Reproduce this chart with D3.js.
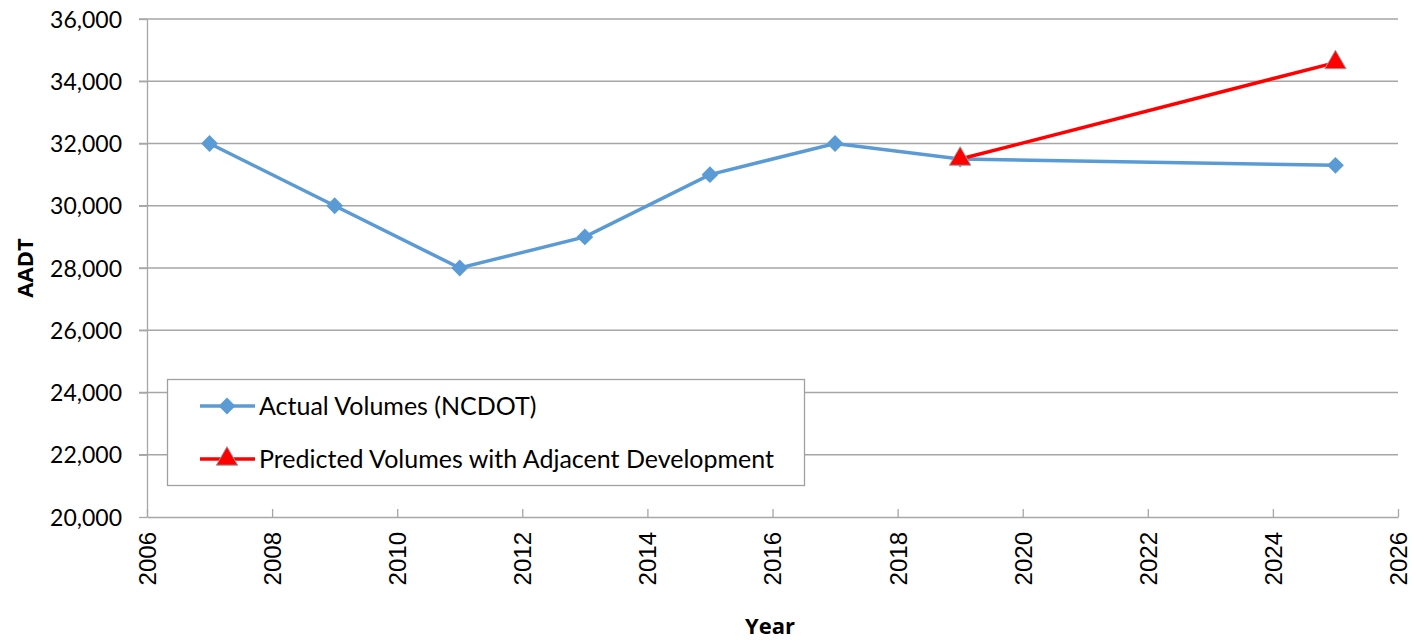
<!DOCTYPE html>
<meta charset="utf-8">
<style>
    body { margin: 0; background: #fff; }
    .grid line { stroke: #a6a6a6; stroke-width: 1.3; }
    .axis path, .axis line { stroke: #a6a6a6; stroke-width: 1.3; }
    .ylab text { font-family: Lato, "Open Sans", sans-serif; font-size: 23px; fill: #000; }
    .xlab text { font-family: "Liberation Sans", Arial, sans-serif; font-size: 24px; fill: #000; }
    .title { font-family: "Open Sans", Lato, sans-serif; font-weight: bold; font-size: 22px; }
    .legend text { font-family: Lato, "Open Sans", sans-serif; font-size: 25px; }
</style>
<body>
<div id="chart"></div>
<script src="https://d3js.org/d3.v7.min.js"></script>
<script>

    // data
    var actualYears = [2007, 2009, 2011, 2013, 2015, 2017, 2019, 2025],
        actualVals  = [32000, 30000, 28000, 29000, 31000, 32000, 31500, 31300];

    var predYears = [2019, 2025],
        predVals  = [31500, 34600];

    var xTicks = [2006, 2008, 2010, 2012, 2014, 2016, 2018, 2020, 2022, 2024, 2026],
        yTicks = [20000, 22000, 24000, 26000, 28000, 30000, 32000, 34000, 36000];

    var legendLabels = ["Actual Volumes (NCDOT)", "Predicted Volumes with Adjacent Development"];

    // dims
    var svg_dx = 1414, svg_dy = 643;
    var plot = { left: 147, right: 1398, top: 19, bottom: 517 };

    var x = d3.scaleLinear().domain([2006, 2026]).range([plot.left, plot.right]),
        y = d3.scaleLinear().domain([20000, 36000]).range([plot.bottom, plot.top]);

    var svg = d3.select("#chart").append("svg")
        .attr("width", svg_dx)
        .attr("height", svg_dy);

    // horizontal gridlines (extend left past axis like tick marks)
    svg.append("g").attr("class", "grid")
        .selectAll("line")
        .data(yTicks.slice(1))
        .enter().append("line")
        .attr("x1", plot.left - 8)
        .attr("x2", plot.right)
        .attr("y1", function (d) { return y(d); })
        .attr("y2", function (d) { return y(d); });

    // y axis
    var yAxis = svg.append("g").attr("class", "axis ylab")
        .attr("transform", "translate(" + plot.left + ",0)")
        .call(d3.axisLeft(y).tickValues(yTicks).tickSize(8).tickSizeOuter(0).tickPadding(17)
            .tickFormat(d3.format(",")));
    yAxis.selectAll("text").attr("dy", "0.35em");

    // x axis (ticks inside)
    var xAxis = svg.append("g").attr("class", "axis xlab")
        .attr("transform", "translate(0," + plot.bottom + ")")
        .call(d3.axisBottom(x).tickValues(xTicks).tickSize(-8).tickSizeOuter(0)
            .tickFormat(d3.format("d")));
    xAxis.selectAll("text")
        .attr("transform", "rotate(-90)")
        .attr("text-anchor", "end")
        .attr("x", -15)
        .attr("y", 0)
        .attr("dy", "0.35em");

    // axis titles
    svg.append("text").attr("class", "title")
        .attr("transform", "translate(33," + ((plot.top + plot.bottom) / 2) + ") rotate(-90)")
        .attr("text-anchor", "middle")
        .text("AADT");

    svg.append("text").attr("class", "title")
        .attr("x", 770).attr("y", 634)
        .attr("text-anchor", "middle")
        .text("Year");

    var line = d3.line()
        .x(function (d) { return x(d[0]); })
        .y(function (d) { return y(d[1]); });

    var actual = d3.zip(actualYears, actualVals),
        pred = d3.zip(predYears, predVals);

    var blue = "#5b9bd5", red = "#ff0000";

    var diamond = d3.symbol().type(d3.symbolDiamond2).size(180);
    var tri = d3.symbol().type(d3.symbolTriangle).size(200);

    svg.append("path")
        .attr("d", line(actual))
        .attr("fill", "none")
        .attr("stroke", blue)
        .attr("stroke-width", 3.5);

    svg.append("g").selectAll("path")
        .data(actual)
        .enter().append("path")
        .attr("transform", function (d) { return "translate(" + x(d[0]) + "," + y(d[1]) + ")"; })
        .attr("d", diamond)
        .attr("fill", blue);

    svg.append("path")
        .attr("d", line(pred))
        .attr("fill", "none")
        .attr("stroke", red)
        .attr("stroke-width", 3.5);

    svg.append("g").selectAll("path")
        .data(pred)
        .enter().append("path")
        .attr("transform", function (d) { return "translate(" + x(d[0]) + "," + y(d[1]) + ")"; })
        .attr("d", tri)
        .attr("fill", red)
        .attr("stroke", "#a0a0a0")
        .attr("stroke-width", 1);

    // legend
    var legend = svg.append("g").attr("class", "legend");
    legend.append("rect")
        .attr("x", 167.5).attr("y", 379.5)
        .attr("width", 637).attr("height", 106)
        .attr("fill", "#fff")
        .attr("stroke", "#a0a0a0")
        .attr("stroke-width", 1.3);

    var items = [
        { label: legendLabels[0], color: blue, sym: diamond, stroke: "none", cy: 406 },
        { label: legendLabels[1], color: red, sym: tri, stroke: "#a0a0a0", cy: 459 }
    ];

    items.forEach(function (it) {
        legend.append("line")
            .attr("x1", 200).attr("x2", 255)
            .attr("y1", it.cy).attr("y2", it.cy)
            .attr("stroke", it.color)
            .attr("stroke-width", 3.5);
        legend.append("path")
            .attr("transform", "translate(227," + it.cy + ")")
            .attr("d", it.sym)
            .attr("fill", it.color)
            .attr("stroke", it.stroke);
        legend.append("text")
            .attr("x", 259).attr("y", it.cy)
            .attr("dy", "0.35em")
            .text(it.label);
    });

</script>
</body>
